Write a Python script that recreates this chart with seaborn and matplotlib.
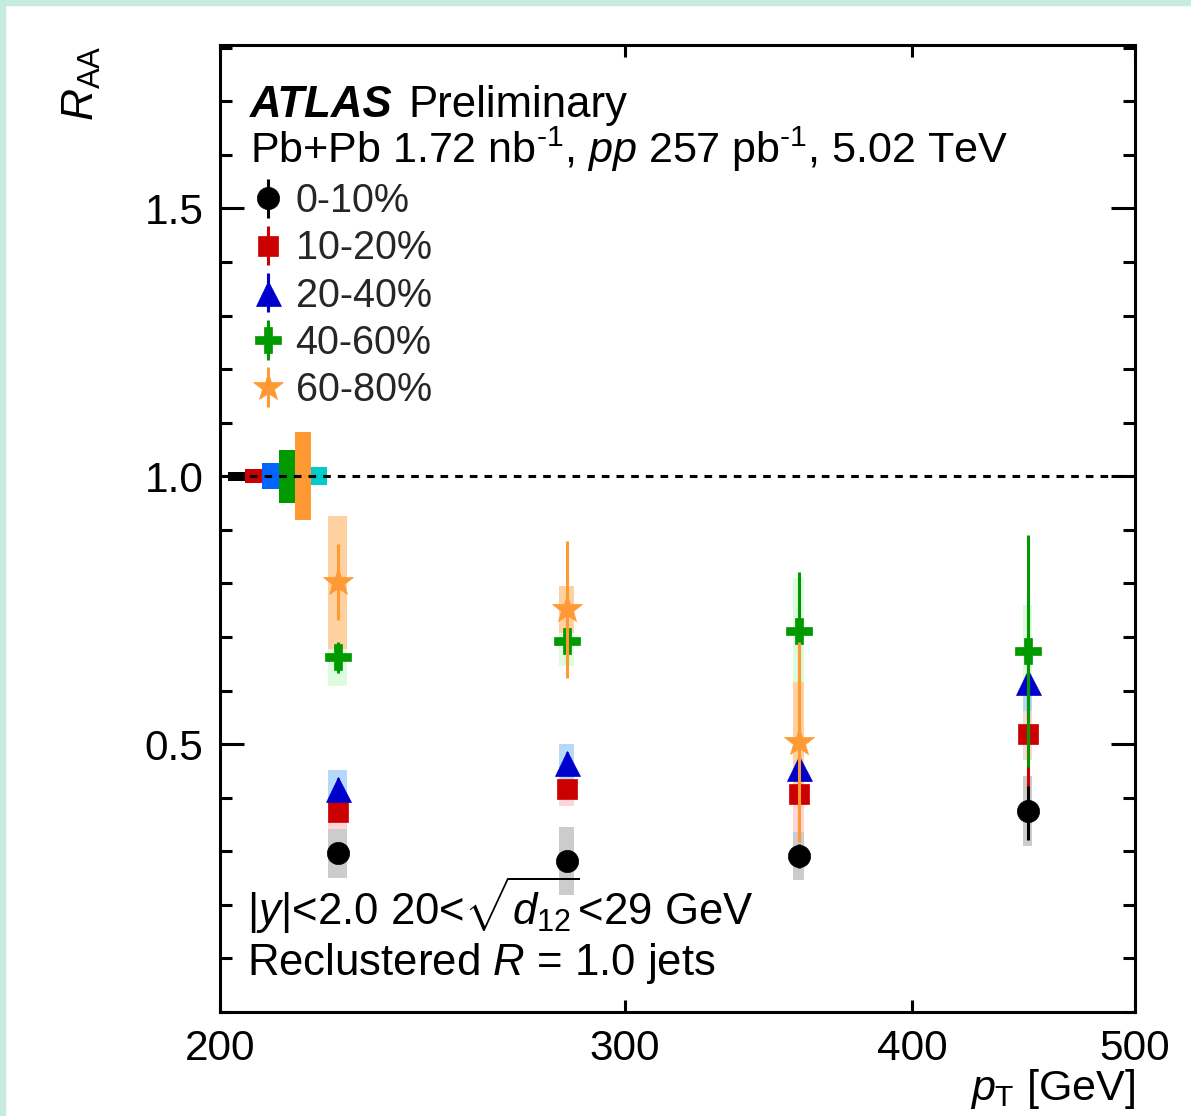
import numpy as np
import pandas as pd
import matplotlib
matplotlib.use("Agg")
import matplotlib.pyplot as plt
import seaborn as sns
from matplotlib.ticker import MultipleLocator, NullLocator
from matplotlib.patches import Rectangle

# bin centres in pT [GeV]
pt = [225, 283, 357, 449]

cent_labels = ["0-10%", "10-20%", "20-40%", "40-60%", "60-80%"]

raa_0_10 = [0.297, 0.282, 0.291, 0.375]
stat_0_10 = [0.012, 0.012, 0.022, 0.054]
sys_0_10 = [0.047, 0.064, 0.045, 0.065]

raa_10_20 = [0.373, 0.416, 0.407, 0.519]
stat_10_20 = [0.015, 0.015, 0.02, 0.097]
sys_10_20 = [0.032, 0.032, 0.071, 0.048]

raa_20_40 = [0.416, 0.465, 0.455, 0.616]
stat_20_40 = [0.02, 0.02, 0.035, 0.07]
sys_20_40 = [0.035, 0.036, 0.04, 0.055]

raa_40_60 = [0.662, 0.692, 0.711, 0.674]
stat_40_60 = [0.029, 0.035, 0.11, 0.216]
sys_40_60 = [0.054, 0.047, 0.1, 0.085]

# no 60-80% point in the last bin
raa_60_80 = [0.802, 0.752, 0.504]
stat_60_80 = [0.071, 0.128, 0.187]
sys_60_80 = [0.124, 0.044, 0.112]

# normalisation uncertainties (5 centralities + pp luminosity)
norm_unc = [0.008, 0.013, 0.024, 0.049, 0.082, 0.017]

sns.set_theme(style="ticks")
plt.rcParams["font.family"] = ["Liberation Sans", "DejaVu Sans"]
plt.rcParams["mathtext.fontset"] = "custom"
plt.rcParams["mathtext.rm"] = "Liberation Sans"
plt.rcParams["mathtext.it"] = "Liberation Sans:italic"
plt.rcParams["mathtext.bf"] = "Liberation Sans:bold"

series = [
    (raa_0_10, stat_0_10, sys_0_10, "black", "#cccccc", "o", 16),
    (raa_10_20, stat_10_20, sys_10_20, "#cc0000", "#ffd5d5", "s", 15),
    (raa_20_40, stat_20_40, sys_20_40, "#0000cc", "#b5d8fb", "^", 18),
    (raa_40_60, stat_40_60, sys_40_60, "#009900", "#ddfbdd", "P", 19),
    (raa_60_80, stat_60_80, sys_60_80, "#ff9933", "#ffd0a0", "*", 22),
]
norm_colors = ["black", "#cc0000", "#0066ff", "#009900", "#ff9933", "#00cccc"]

fig = plt.figure(figsize=(11.91, 11.16), dpi=100)
fig.patch.set_facecolor("white")
ax = fig.add_axes([220 / 1191, 1 - 1012 / 1116, 915 / 1191, 967 / 1116])
ax.set_facecolor("white")

# systematic boxes
for i, (raa, stat, sys_, col, light, mk, ms) in enumerate(series):
    n = len(raa)
    df = pd.DataFrame({"pt": pt[:n], "raa": raa, "sys": sys_})
    ax.bar(df["pt"], 2 * df["sys"], bottom=df["raa"] - df["sys"], width=4.2,
           color=light, edgecolor="none", zorder=1 + i * 0.1)

# normalisation boxes near 1
norm_x = [201.6 + 3.5 * k for k in range(len(norm_unc))]
ax.bar(norm_x, [2 * u for u in norm_unc], bottom=[1 - u for u in norm_unc],
       width=3.5, align="edge", color=norm_colors, edgecolor="none", zorder=2)
ax.axhline(1.0, color="black", lw=2.2, ls=(0, (2.5, 2.3)), zorder=3)

handles = []
for i, (raa, stat, sys_, col, light, mk, ms) in enumerate(series):
    n = len(raa)
    h = ax.errorbar(pt[:n], raa, yerr=stat, fmt=mk, color=col, ms=ms,
                    mec=col, mew=0.5, elinewidth=2.2, capsize=0,
                    label=cent_labels[i], zorder=5 + i * 0.1)
    handles.append(h)

ax.set_xscale("log")
ax.set_xlim(200, 500)
ax.set_ylim(0, 1.805)
ax.set_xticks([200, 300, 400, 500])
ax.set_xticklabels(["200", "300", "400", "500"])
ax.xaxis.set_minor_locator(NullLocator())
ax.set_yticks([0.5, 1.0, 1.5])
ax.set_yticklabels(["0.5", "1.0", "1.5"])
ax.yaxis.set_minor_locator(MultipleLocator(0.1))

for s in ax.spines.values():
    s.set_linewidth(2.2)
    s.set_color("black")
ax.tick_params(axis="both", which="both", direction="in", top=True, right=True,
               width=2.2, colors="black", labelsize=30.5)
ax.tick_params(axis="x", which="major", length=8.5, pad=12)
ax.tick_params(axis="y", which="major", length=17, pad=12)
ax.tick_params(axis="y", which="minor", length=8.5)

ax.set_xlabel(r"$p_{\rm T}$ [GeV]", fontsize=31, color="black")
ax.xaxis.set_label_coords(1.0, -0.057)
ax.xaxis.label.set_ha("right")
ax.set_ylabel(r"$R_{\rm AA}$", fontsize=32, color="black")
ax.yaxis.set_label_coords(-0.128, 1.0)
ax.yaxis.label.set_ha("right")

t_atlas = ax.text(0.033, 0.9255, "ATLAS", transform=ax.transAxes, fontsize=31.5,
                  fontweight="bold", fontstyle="italic", color="black")
ax.annotate("Preliminary", xy=(1, 0), xycoords=t_atlas, xytext=(11, 0),
            textcoords="offset points", fontsize=31.5, color="black", va="bottom")
ax.text(0.033, 0.878, r"Pb+Pb 1.72 nb$^{\text{-1}}$, $pp$ 257 pb$^{\text{-1}}$, 5.02 TeV",
        transform=ax.transAxes, fontsize=31.1, color="black")
ax.text(0.03, 0.09, r"$|y|$<2.0 20<$\sqrt{d_{12}}$<29 GeV",
        transform=ax.transAxes, fontsize=31.5, color="black")
ax.text(0.03, 0.038, r"Reclustered $R$ = 1.0 jets",
        transform=ax.transAxes, fontsize=31.5, color="black")

leg = ax.legend(handles=handles, labels=cent_labels, loc="upper left",
                bbox_to_anchor=(0.035, 0.858), frameon=False, fontsize=28.5,
                handlelength=0.8, handletextpad=0.3, labelspacing=0.23,
                borderpad=0, borderaxespad=0, numpoints=1)

# light frame strips at the top and left edge
fig.patches.append(Rectangle((0, 1 - 5 / 1116), 1, 5 / 1116, transform=fig.transFigure,
                             color="#c6ebe0", zorder=0))
fig.patches.append(Rectangle((0, 0), 5 / 1191, 1, transform=fig.transFigure,
                             color="#c6ebe0", zorder=0))

fig.savefig("out.png", dpi=100)
